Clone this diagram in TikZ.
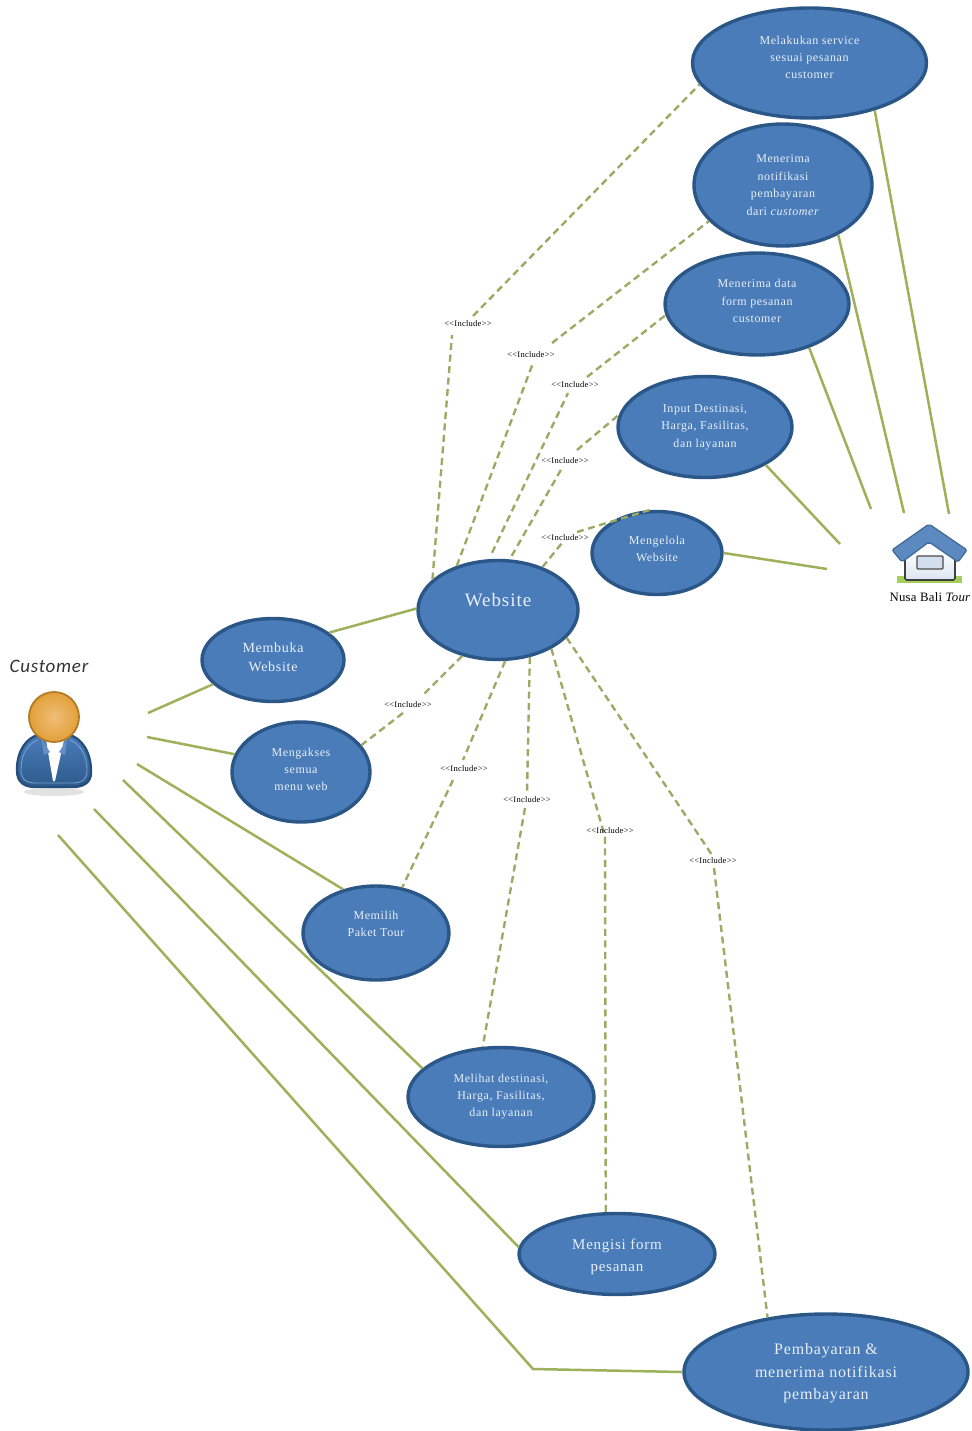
\documentclass[tikz,border=0pt]{standalone}
\usepackage{fontspec}
\setmainfont{Liberation Serif}[Ligatures=NoCommon]
\newfontfamily\capfont{Carlito}
\usetikzlibrary{shapes.geometric}
\definecolor{ucfill}{HTML}{4A7CB9}
\definecolor{ucedge}{HTML}{2A5788}
\definecolor{ln}{HTML}{9DB15A}
\definecolor{dl}{HTML}{9DAA66}
\definecolor{headin}{HTML}{F0BE78}
\definecolor{headout}{HTML}{E2A03A}
\definecolor{headedge}{HTML}{B27C24}
\definecolor{lawn}{HTML}{A5CF5A}
\tikzset{
 uc/.style={ellipse,draw=ucedge,line width=3.4pt,fill=ucfill,text=white!88!ucfill,align=center,inner sep=0pt,minimum width=2*#1},
 solidln/.style={draw=ln,line width=2.5pt},
 inc/.style={draw=dl,line width=2.4pt,dash pattern=on 7pt off 4.5pt},
 lab/.style={inner sep=0pt,font=\fontsize{8.5}{10}\selectfont\addfontfeature{LetterSpace=3},text=black},
}
\newcommand{\ucnode}[7]{\node[uc=#4pt,minimum height=#5pt,font=\fontsize{#6}{#7}\selectfont\addfontfeature{LetterSpace=5}] (#1) at (#2,#3)}
\newcommand{\upn}[1]{\\[\dimexpr #1pt*2-\baselineskip\relax]\mbox{}}
\newcommand{\incl}{{<}{<}Include{>}{>}}
\begin{document}
\begin{tikzpicture}[x=1pt,y=-1pt]
\useasboundingbox (0,0) rectangle (971,1431);
% free ends
\coordinate (nb1) at (949,514); \coordinate (nb2) at (904,513); \coordinate (nb3) at (871,509);
\coordinate (nb4) at (840,544); \coordinate (nb5) at (827,569);
\coordinate (c1) at (148,713); \coordinate (c2) at (147,737); \coordinate (c3) at (137,764);
\coordinate (c4) at (123,780); \coordinate (c5) at (94,809); \coordinate (c6) at (58,835);
\coordinate (bend) at (533,1369);
% labels
\node[lab] (l1) at (468,324) {\incl};
\node[lab] (l2) at (531,355) {\incl};
\node[lab] (l3) at (575,385) {\incl};
\node[lab] (l4) at (565,461) {\incl};
\node[lab] (l5) at (565,538) {\incl};
\node[lab] (l6) at (408,705) {\incl};
\node[lab] (l7) at (464,769) {\incl};
\node[lab] (l8) at (527,800) {\incl};
\node[lab] (l10) at (713,861) {\incl};
% dashed end points at the labels
\coordinate (a1) at (452,335); \coordinate (b1) at (473,316);
\coordinate (a2) at (533,363); \coordinate (b2) at (552,343);
\coordinate (a3) at (568,393); \coordinate (b3) at (587,377);
\coordinate (a4) at (562,468); \coordinate (b4) at (577,450);
\coordinate (a5) at (562,543); \coordinate (b5) at (577,532);
\coordinate (a6) at (424,694); \coordinate (b6) at (403,713);
\coordinate (a7) at (463,760); \coordinate (b7) at (453,780);
\coordinate (a8) at (527,793); \coordinate (b8) at (525,808);
\coordinate (a9) at (605,837);
\coordinate (a10) at (712,855); \coordinate (b10) at (714,868);
% nodes
\ucnode{melakukan}{809.5}{63}{117}{110}{12}{17} {Melakukan service\\sesuai pesanan\\customer\upn{6}};
\ucnode{notif}{783}{185}{89}{122}{12}{17.5} {Menerima\\notifikasi\\pembayaran\\dari \textit{customer}};
\ucnode{data}{757}{304}{92}{102}{12}{17.5} {Menerima data\\form pesanan\\customer\upn{3}};
\ucnode{inputd}{705}{427}{87}{101}{12}{17.5} {Input Destinasi,\\Harga, Fasilitas,\\dan layanan};
\ucnode{kelola}{657}{553}{65}{83}{12}{17} {Mengelola\\Website\upn{4.5}};
\ucnode{web}{498}{610}{80}{99}{19}{22} {Website\upn{10}};
\ucnode{buka}{273}{660}{71}{83}{14}{19} {Membuka\\Website\upn{3}};
\ucnode{akses}{301}{772}{69}{100}{12}{17} {Mengakses\\semua\\menu web\upn{3}};
\ucnode{pilih}{376}{933}{73}{94}{12}{17} {Memilih\\Paket Tour\upn{9}};
\ucnode{lihat}{501}{1097}{93}{99}{12}{17} {Melihat destinasi,\\Harga, Fasilitas,\\dan layanan};
\ucnode{isi}{617}{1254}{98}{81}{15}{22} {\rule{0pt}{17pt}Mengisi form\\pesanan};
\ucnode{bayar}{826}{1372}{142}{116}{16}{22.5} {\rule{0pt}{14pt}Pembayaran \&\\menerima notifikasi\\pembayaran};
% solid connectors
\draw[solidln] (melakukan.-36) -- (nb1);
\draw[solidln] (notif.-42) -- (nb2);
\draw[solidln] (data.-40) -- (nb3);
\draw[solidln] (inputd.-32) -- (nb4);
\draw[solidln] (kelola.east) -- (nb5);
\draw[solidln] (web.179) -- (buka.26);
\draw[solidln] (buka.202) -- (c1);
\draw[solidln] (akses.165) -- (c2);
\draw[solidln] (pilih.127) -- (c3);
\draw[solidln] (lihat.160) -- (c4);
\draw[solidln] (isi.176) -- (c5);
\draw[solidln] (bayar.west) -- (bend) -- (c6);
% dashed connectors
\draw[inc] (web.155) -- (a1); \draw[inc] (b1) -- (melakukan.191);
\draw[inc] (web.133) -- (a2); \draw[inc] (b2) -- (notif.206);
\draw[inc,shorten <=7pt] (web.100) -- (a3); \draw[inc] (b3) -- (data.187);
\draw[inc,shorten <=4pt] (web.77) -- (a4); \draw[inc] (b4) -- (inputd.172);
\draw[inc] (web.44) -- (a5); \draw[inc] (b5) -- (kelola.100);
\draw[inc] (web.-128) -- (a6); \draw[inc] (b6) -- (akses.24);
\draw[inc] (web.-82) -- (a7); \draw[inc] (b7) -- (pilih.60);
\draw[inc] (web.-56) -- (a8); \draw[inc] (b8) -- (lihat.110);
\draw[inc] (web.-36) -- (a9) -- (isi.105);
\draw[inc] (web.-22) -- (a10); \draw[inc] (b10) -- (bayar.137);
\node[lab] (l9) at (610,831) {\incl};
% actor
\node[font=\capfont\fontsize{19}{22}\selectfont\itshape\addfontfeature{LetterSpace=4},text=black!80] (custlabel) at (49,666) {Customer};
\fill[black!25,opacity=.45] (54,792) ellipse (30 and 4);
\draw[draw=ucedge!90!black,line width=2.4pt,top color=ucfill,bottom color=ucedge!90!ucfill]
 (17,770) .. controls (17,750) and (27,738) .. (38,735) -- (70,735) .. controls (82,739) and (91,752) .. (91,772)
 .. controls (91,783) and (83,787) .. (72,787) -- (36,787) .. controls (25,787) and (17,783) .. (17,770) -- cycle;
\draw[draw=ucfill!75!white,line width=.9pt]
 (21,770) .. controls (21,753) and (29,743) .. (38,740) (70,740) .. controls (80,744) and (87,755) .. (87,771)
 .. controls (87,780) and (81,783) .. (72,783) -- (36,783) .. controls (27,783) and (21,780) .. (21,770);
\fill[white] (46,740) -- (64,740) -- (55,781) -- (53,781) -- cycle;
\fill[ucfill!85!white] (41,737) -- (46,746) -- (50,752) -- (44,755) -- cycle;
\fill[ucfill!85!white] (67,737) -- (63,746) -- (59,752) -- (65,755) -- cycle;
\draw[draw=headedge,line width=1.8pt,inner color=headin,outer color=headout] (54,717) circle (25);
% house
\fill[lawn] (897,576) rectangle (962,583);
\draw[draw=black!75,line width=1.6pt,top color=white,bottom color=ucfill!20!white,rounded corners=1.5pt] (905,550) -- (905,580) -- (955,580) -- (955,550);
\draw[draw=black!70,line width=1.3pt,fill=ucfill!25!white,rounded corners=1pt] (917,556) rectangle (943,569);
\draw[draw=ucedge!90!white,line width=1.2pt,fill=ucfill!90!white,rounded corners=2pt,line join=round]
 (892,550) -- (929,524) -- (967,550) -- (958,562) -- (929,542) -- (902,562) -- cycle;
\node[font=\fontsize{12.8}{15}\selectfont\addfontfeature{LetterSpace=2},text=black] (nusa) at (930,597) {Nusa Bali \textit{Tour}};
\end{tikzpicture}
\end{document}
